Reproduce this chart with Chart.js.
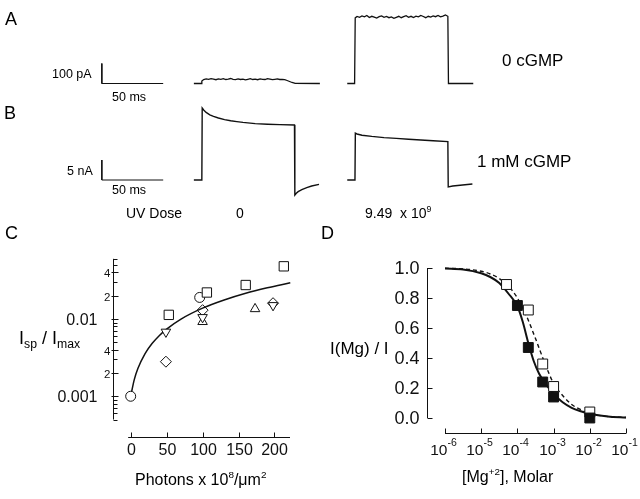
<!DOCTYPE html>
<html>
<head>
<meta charset="utf-8">
<title>Photolysis figure</title>
<script src="https://cdn.jsdelivr.net/npm/chart.js@4.4.1/dist/chart.umd.min.js"></script>
<style>
  html, body { margin: 0; padding: 0; background: #fff; }
  #fig { position: relative; width: 640px; height: 499px; overflow: hidden;
         font-family: "Liberation Sans", Arial, Helvetica, sans-serif; color: #000; }
  #fig canvas { position: absolute; }
  .t { position: absolute; white-space: nowrap; line-height: 1; transform: translateY(-50%); }
  .sup { font-size: 0.62em; position: relative; top: -0.75em; }
  .sub { font-size: 0.68em; position: relative; top: 0.35em; }
</style>
</head>
<body>
<div id="fig">
  <canvas id="chartA" width="640" height="100" style="left:0;top:0"></canvas>
  <canvas id="chartB" width="640" height="110" style="left:0;top:100px"></canvas>
  <canvas id="chartC" width="320" height="259" style="left:0;top:240px"></canvas>
  <canvas id="chartD" width="320" height="259" style="left:320px;top:240px"></canvas>

  <div class="t" style="left:5px;top:19px;font-size:18px">A</div>
  <div class="t" style="left:52px;top:74px;font-size:12.5px">100 pA</div>
  <div class="t" style="left:112px;top:97px;font-size:12.5px">50 ms</div>
  <div class="t" style="left:502px;top:60px;font-size:17px">0 cGMP</div>

  <div class="t" style="left:4px;top:113px;font-size:18px">B</div>
  <div class="t" style="left:67px;top:171px;font-size:12.5px">5 nA</div>
  <div class="t" style="left:112px;top:190px;font-size:12.5px">50 ms</div>
  <div class="t" style="left:477px;top:161px;font-size:17px">1 mM cGMP</div>
  <div class="t" style="left:126px;top:213px;font-size:14px">UV Dose</div>
  <div class="t" style="left:236px;top:213px;font-size:14px">0</div>
  <div class="t" style="left:365px;top:213px;font-size:14px">9.49&nbsp; x 10<span class="sup">9</span></div>

  <div class="t" style="left:5px;top:233px;font-size:18px">C</div>
  <div class="t" style="left:19px;top:338px;font-size:18px">I<span class="sub">sp</span> / I<span class="sub">max</span></div>
  <div class="t" style="left:135px;top:480px;font-size:16px">Photons x 10<span class="sup">8</span>/&mu;m<span class="sup">2</span></div>

  <div class="t" style="left:321px;top:233px;font-size:18px">D</div>
  <div class="t" style="left:330px;top:348px;font-size:17px">I(Mg) / I</div>
  <div class="t" style="left:462px;top:477px;font-size:16px">[Mg<span class="sup">+2</span>], Molar</div>
</div>

<script>
// ---- A: currents with 0 cGMP (time in ms from trace start, current in pA)
const aTime = [0, 6, 6.5, 8, 10, 12, 14, 16, 18, 20, 22, 24, 26, 28, 30, 32, 34, 36, 38, 40, 42,
  44, 46, 48, 50, 52, 54, 56, 58, 60, 62, 64, 66, 68, 70, 72, 74, 76, 78, 80, 82, 82.5, 102.7];
const aDose0 = [0, 0, 12, 20, 23, 21, 24, 22, 19, 23, 21, 24, 20, 22, 25, 21, 19, 23, 20, 22, 18,
  21, 24, 20, 22, 19, 23, 21, 20, 24, 22, 19, 21, 23, 20, 21, 19, 15, 10, 5, 2, 1, 0];
const aDoseUV = [0, 0, 328, 335, 331, 338, 333, 340, 330, 336, 332, 327, 334, 338, 331, 335, 329,
  333, 326, 331, 336, 329, 334, 339, 331, 336, 330, 337, 333, 340, 335, 329, 336, 332, 338, 334,
  340, 333, 337, 343, 336, 0, 0];

// ---- B: currents with 1 mM cGMP (ms, nA)
const bTime0 = [0, 6.5, 6.8, 8, 10, 13, 16, 20, 25, 30, 35, 40, 50, 60, 70, 82, 82.3, 83.5, 85, 88, 92, 96, 102];
const bDose0 = [0, 0, 18, 17.5, 16.9, 16.3, 15.9, 15.5, 15.1, 14.8, 14.6, 14.4, 14.1, 13.95, 13.85,
  13.75, -3.75, -3.3, -2.9, -2.4, -1.9, -1.5, -1.1];
const bTimeUV = [0, 6.3, 6.6, 8, 12, 20, 30, 40, 50, 60, 70, 82, 82.3, 86, 92, 102];
const bDoseUV = [0, 0, 11.7, 11.5, 11.2, 10.9, 10.6, 10.4, 10.2, 10.0, 9.8, 9.6, -1.75, -1.5, -1.3, -1.0];

// scale bars: 50 ms by 100 pA / 5 nA
const barTime = [0, 0, 50];
const barA = [100, 0, 0];
const barB = [5, 0, 0];

// ---- C: spontaneous current vs photons
const cCircleX = [0, 96];
const cCircleY = [0.001, 0.019];
const cSquareX = [53, 106, 160, 213];
const cSquareY = [0.0113, 0.022, 0.0275, 0.048];
const cDownX = [49, 100, 198];
const cDownY = [0.0068, 0.0105, 0.015];
const cUpX = [100, 173];
const cUpY = [0.0092, 0.0135];
const cDiamondX = [49, 100, 198];
const cDiamondY = [0.0028, 0.013, 0.016];
const cFitX = [0, 5, 10, 20, 30, 40, 50, 70, 100, 130, 160, 190, 222];
const cFitY = [0.001, 0.00164, 0.00228, 0.00356, 0.00484, 0.00612, 0.0074, 0.00996, 0.0138,
  0.0176, 0.0215, 0.0253, 0.0294];
const cYTicks = [0.0005, 0.0006, 0.0007, 0.0008, 0.0009, 0.001, 0.002, 0.003, 0.004, 0.005,
  0.006, 0.007, 0.008, 0.009, 0.01, 0.02, 0.03, 0.04, 0.05, 0.06];
const cYLabels = ['', '', '', '', '', '0.001', '2', '', '4', '', '', '', '', '', '0.01', '2', '', '4', '', ''];
const cXTicks = [0, 50, 100, 150, 200];
const cXLabels = ['0', '50', '100', '150', '200'];

// ---- D: Mg block
const dOpenX = [5e-5, 2e-4, 5e-4, 1e-3, 1e-2];
const dOpenY = [0.89, 0.72, 0.36, 0.21, 0.04];
const dFilledX = [1e-4, 2e-4, 5e-4, 1e-3, 1e-2];
const dFilledY = [0.75, 0.47, 0.24, 0.14, 0.0];
const dSolidX = [1e-6, 3.16e-6, 1e-5, 1.78e-5, 3.16e-5, 5.62e-5, 1e-4, 1.41e-4, 2.0e-4, 2.82e-4,
  3.98e-4, 6.31e-4, 1e-3, 1.78e-3, 3.16e-3, 5.62e-3, 1e-2, 3.16e-2, 1e-1];
const dSolidY = [0.997, 0.99, 0.965, 0.94, 0.90, 0.83, 0.745, 0.64, 0.50, 0.38, 0.295, 0.22,
  0.16, 0.105, 0.068, 0.045, 0.028, 0.01, 0.003];
const dDashX = [1e-6, 3.16e-6, 1e-5, 1.78e-5, 3.16e-5, 5.62e-5, 1e-4, 1.78e-4, 3.16e-4, 5.62e-4,
  1e-3, 1.78e-3, 3.16e-3, 5.62e-3, 1e-2, 3.16e-2, 1e-1];
const dDashY = [0.998, 0.994, 0.978, 0.96, 0.93, 0.88, 0.80, 0.68, 0.53, 0.37, 0.23, 0.15,
  0.09, 0.055, 0.03, 0.01, 0.003];
const dYTicks = [0, 0.2, 0.4, 0.6, 0.8, 1.0];
const dYLabels = ['0.0', '0.2', '0.4', '0.6', '0.8', '1.0'];
const dXTicks = [1e-6, 1e-5, 1e-4, 1e-3, 1e-2, 1e-1];
const dXExp = ['-6', '-5', '-4', '-3', '-2', '-1'];

// where each trace sits on the shared time axis (ms)
const BAR_AT = 83;
const TRACE0_AT = 158;
const TRACEUV_AT = 283;

const FONT = '"Liberation Sans", Arial, Helvetica, sans-serif';
const INK = '#111';

function pairs(xs, ys, shift) {
  return xs.map((x, i) => ({ x: x + (shift || 0), y: ys[i] }));
}

function lineSet(data, opts) {
  return Object.assign({
    data: data, showLine: true, pointRadius: 0, borderColor: INK, borderWidth: 1.3,
    fill: false, tension: 0, clip: false
  }, opts);
}

function markerSet(data, style, radius, opts) {
  return Object.assign({
    data: data, showLine: false, pointStyle: style, pointRadius: radius,
    pointBorderColor: INK, pointBackgroundColor: '#fff', pointBorderWidth: 1, clip: false
  }, opts);
}

function tickSetter(values, labels, extra) {
  return function (scale) {
    scale.ticks = values.map((v, i) => ({ value: v, text: labels[i], sup: extra ? extra[i] : '' }));
  };
}

// axis drawing for panels C and D: lines and tick marks go where the scales put them
const axisSpecs = {};

function stroke(ctx, x1, y1, x2, y2) {
  ctx.beginPath();
  ctx.moveTo(x1, y1);
  ctx.lineTo(x2, y2);
  ctx.stroke();
}

const paperAxes = {
  id: 'paperAxes',
  afterDatasetsDraw(chart) {
    const spec = axisSpecs[chart.canvas.id];
    if (!spec) return;
    const ctx = chart.ctx;
    const area = chart.chartArea;
    const xs = chart.scales.x;
    const ys = chart.scales.y;
    ctx.save();
    ctx.strokeStyle = INK;
    ctx.fillStyle = INK;
    ctx.lineWidth = 1;
    ctx.textBaseline = 'middle';

    // y axis on the left edge of the plot area, ticks pointing inwards
    const ax = Math.round(area.left) + 0.5;
    stroke(ctx, ax, ys.getPixelForValue(spec.y.from), ax, ys.getPixelForValue(spec.y.to));
    ys.ticks.forEach(t => {
      const py = Math.round(ys.getPixelForValue(t.value)) + 0.5;
      const labelled = t.text !== '';
      stroke(ctx, ax - (labelled ? spec.y.out : 0), py, ax + (labelled ? spec.y.len : spec.y.minor), py);
      if (!labelled) return;
      const small = t.text.length === 1;
      ctx.font = (small ? spec.y.smallSize : spec.y.size) + 'px ' + FONT;
      ctx.textAlign = 'right';
      ctx.fillText(t.text, ax - (small ? spec.y.smallGap : spec.y.gap), py + 1);
    });

    // x axis detached below, ticks pointing up
    const ay = Math.round(area.bottom) + 0.5;
    stroke(ctx, xs.getPixelForValue(spec.x.from), ay, xs.getPixelForValue(spec.x.to), ay);
    ctx.textAlign = 'left';
    xs.ticks.forEach(t => {
      const px = Math.round(xs.getPixelForValue(t.value)) + 0.5;
      stroke(ctx, px, ay, px, ay - spec.x.len);
      ctx.font = spec.x.size + 'px ' + FONT;
      const w1 = ctx.measureText(t.text).width;
      ctx.font = spec.x.supSize + 'px ' + FONT;
      const w2 = t.sup ? ctx.measureText(t.sup).width : 0;
      const left = px - (w1 + w2) / 2 + spec.x.shift;
      ctx.font = spec.x.size + 'px ' + FONT;
      ctx.fillText(t.text, left, ay + spec.x.dy);
      if (t.sup) {
        ctx.font = spec.x.supSize + 'px ' + FONT;
        ctx.fillText(t.sup, left + w1, ay + spec.x.dy - spec.x.raise);
      }
    });
    ctx.restore();
  }
};
Chart.register(paperAxes);

function baseOptions(pad, xScale, yScale) {
  const keepAll = { autoSkip: false, sampleSize: 100 };
  return {
    responsive: false,
    animation: false,
    events: [],
    layout: { padding: pad },
    plugins: { legend: { display: false }, tooltip: { enabled: false } },
    scales: {
      x: Object.assign({ display: false, bounds: 'data', ticks: keepAll }, xScale),
      y: Object.assign({ display: false, bounds: 'data', ticks: keepAll }, yScale)
    }
  };
}

// ---- panel A
new Chart(document.getElementById('chartA'), {
  type: 'scatter',
  data: {
    datasets: [
      lineSet(pairs(barTime, barA, BAR_AT), { borderWidth: 1 }),
      lineSet(pairs(aTime, aDose0, TRACE0_AT)),
      lineSet(pairs(aTime, aDoseUV, TRACEUV_AT))
    ]
  },
  options: baseOptions(0, { type: 'linear', min: 0, max: 521.6 }, { type: 'linear', min: -82.5, max: 417.5 })
});

// ---- panel B
new Chart(document.getElementById('chartB'), {
  type: 'scatter',
  data: {
    datasets: [
      lineSet(pairs(barTime, barB, BAR_AT), { borderWidth: 1 }),
      lineSet(pairs(bTime0, bDose0, TRACE0_AT), { borderWidth: 1.4 }),
      lineSet(pairs(bTimeUV, bDoseUV, TRACEUV_AT), { borderWidth: 1.4 })
    ]
  },
  options: baseOptions(0, { type: 'linear', min: 0, max: 521.6 }, { type: 'linear', min: -7.5, max: 20 })
});

// ---- panel C
axisSpecs.chartC = {
  y: { from: 0.0005, to: 0.06, len: 5, minor: 4, out: 2, size: 16, gap: 16, smallSize: 11.5, smallGap: 3 },
  x: { from: -3.5, to: 221.6, len: 5, size: 16, supSize: 10, dy: 13, raise: 0, shift: 0 }
};
new Chart(document.getElementById('chartC'), {
  type: 'scatter',
  data: {
    datasets: [
      lineSet(pairs(cFitX, cFitY), { borderWidth: 1.5, cubicInterpolationMode: 'monotone', order: 5 }),
      markerSet(pairs(cCircleX, cCircleY), 'circle', 5, { order: 4 }),
      markerSet(pairs(cSquareX, cSquareY), 'rect', 6.6, { order: 1 }),
      markerSet(pairs(cDownX, cDownY), 'triangle', 5.5, { pointRotation: 180, order: 2 }),
      markerSet(pairs(cUpX, cUpY), 'triangle', 5.5, { order: 2, pointBackgroundColor: 'rgba(255,255,255,0)' }),
      markerSet(pairs(cDiamondX, cDiamondY), 'rectRot', 5.5, { order: 3, pointBackgroundColor: 'rgba(255,255,255,0)' })
    ]
  },
  options: baseOptions({ left: 113, right: 30, top: 18, bottom: 62 },
    { type: 'linear', min: -24.6, max: 221.6, afterBuildTicks: tickSetter(cXTicks, cXLabels) },
    { type: 'logarithmic', min: 0.000297, max: 0.0615, afterBuildTicks: tickSetter(cYTicks, cYLabels) })
});

// ---- panel D
axisSpecs.chartD = {
  y: { from: 0, to: 1, len: 5, minor: 5, out: 0, size: 18, gap: 8, smallSize: 11, smallGap: 3 },
  x: { from: 1e-6, to: 1e-1, len: 5, size: 15.5, supSize: 10.5, dy: 17, raise: 7, shift: -2 }
};
new Chart(document.getElementById('chartD'), {
  type: 'scatter',
  data: {
    datasets: [
      lineSet(pairs(dSolidX, dSolidY), { borderWidth: 2, cubicInterpolationMode: 'monotone', order: 4 }),
      lineSet(pairs(dDashX, dDashY), { borderWidth: 1.4, borderDash: [4, 3], cubicInterpolationMode: 'monotone', order: 3 }),
      markerSet(pairs(dOpenX, dOpenY), 'rect', 7, { order: 2 }),
      markerSet(pairs(dFilledX, dFilledY), 'rect', 7, { order: 1, pointBackgroundColor: INK })
    ]
  },
  options: baseOptions({ left: 107, right: 14, top: 28, bottom: 66 },
    { type: 'logarithmic', min: 3.18e-7, max: 0.1, afterBuildTicks: tickSetter(dXTicks, dXTicks.map(() => '10'), dXExp) },
    { type: 'linear', min: -0.1, max: 1.0, afterBuildTicks: tickSetter(dYTicks, dYLabels) })
});
</script>
</body>
</html>
